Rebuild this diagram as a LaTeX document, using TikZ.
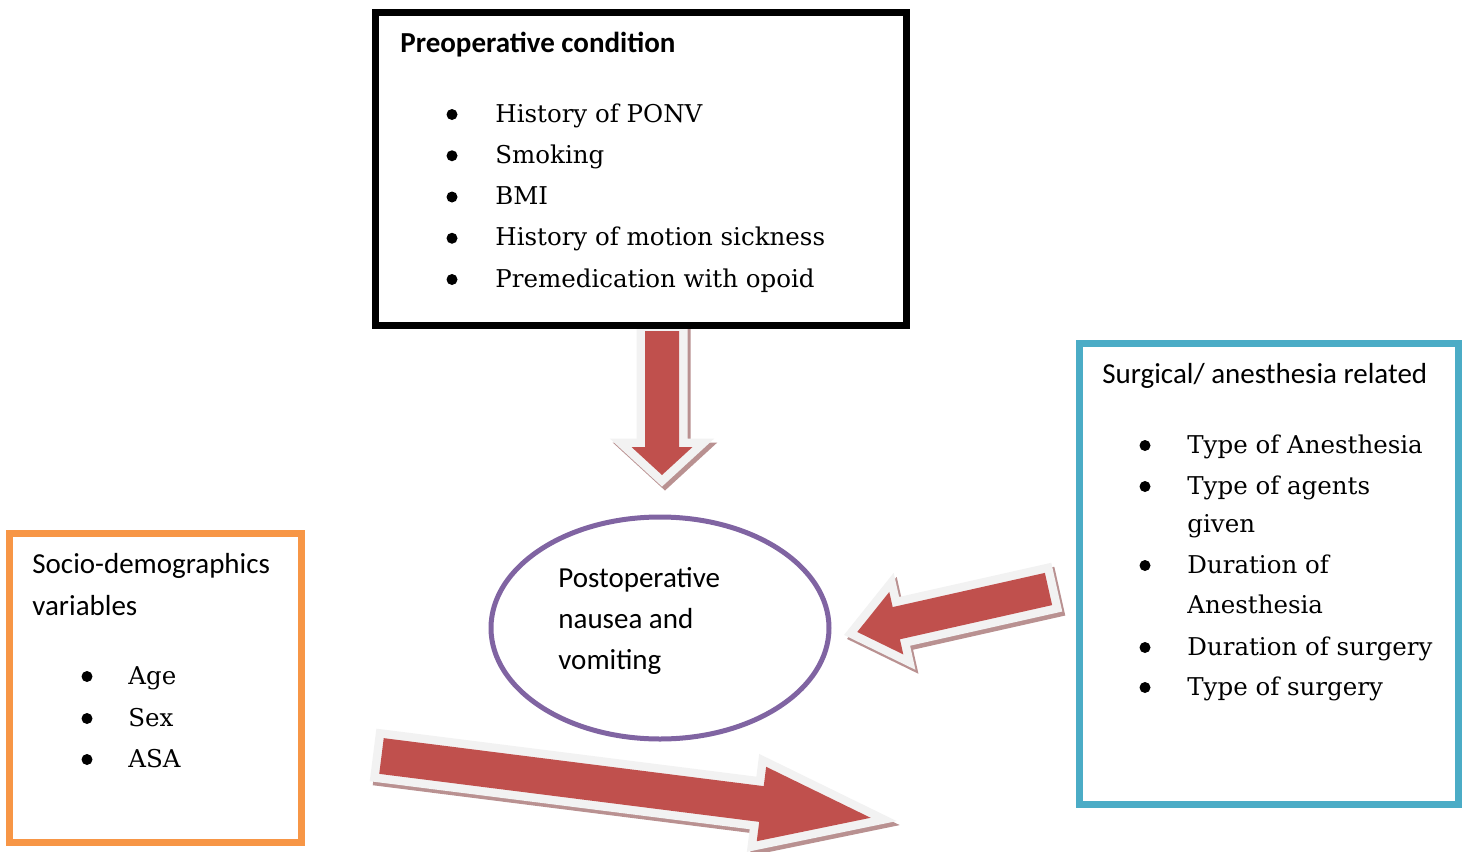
\documentclass[tikz,border=0pt]{standalone}
\usepackage{fontspec}
\setmainfont{DejaVu Serif}
\newfontfamily\calibri{Carlito}
\usetikzlibrary{shapes.geometric,shadows}

\definecolor{arrowred}{HTML}{C0504D}
\definecolor{arrowrim}{HTML}{F2F2F2}
\definecolor{arrowshade}{RGB}{185,145,145}
\definecolor{boxorange}{HTML}{F79646}
\definecolor{boxblue}{HTML}{4BACC6}
\definecolor{ringpurple}{HTML}{8064A2}

\tikzset{
  item/.style={anchor=base west, inner sep=0pt, font=\fontsize{12.25}{14}\selectfont},
  head/.style={anchor=base west, inner sep=0pt, font=\calibri\fontsize{14.5}{16}\selectfont},
  frame/.style={draw, line width=3.5pt, inner sep=0pt, outer sep=0pt, anchor=north west},
  fatbody/.style={
    drop shadow={shadow xshift=1.5pt, shadow yshift=-2pt, fill=arrowshade,
      draw=arrowshade, line width=8.5pt, line join=miter, opacity=1},
    preaction={draw=arrowrim, fill=arrowrim, line width=8.5pt, line join=miter},
    fill=arrowred},
  pics/fatarrow/.style args={#1/#2/#3/#4}{code={
    \path[fatbody] (0,#2/2) -- ({#1-#4},#2/2) -- ({#1-#4},#3/2) -- (#1,0)
      -- ({#1-#4},-#3/2) -- ({#1-#4},-#2/2) -- (0,-#2/2) -- cycle;}},
}

\begin{document}
\begin{tikzpicture}[x=0.5pt, y=-0.5pt]
  \useasboundingbox (0,0) rectangle (1464,852);

  % block arrows
  \pic[rotate=-90] (downarrow) at (662,331) {fatarrow=144/34/61/28};
  \pic[rotate=192.66] (leftarrow) at (1048.5,589) {fatarrow=196/33/64/40};
  \pic[rotate=-7.2] (rightarrow) at (381.5,756) {fatarrow=493/36/75/110};

  % preoperative condition
  \node[frame, minimum width=265.5pt, minimum height=156.75pt] (pre) at (375.5,12) {};
  \node[head, font=\calibri\bfseries\fontsize{14.5}{16}\selectfont] (pretitle) at (400,52) {Preoperative condition};
  \foreach \t [count=\i] in {History of PONV, Smoking, BMI, History of motion sickness, Premedication with opoid} {
    \fill (452,{122+41.25*(\i-1)-7.5}) circle (5.5);
    \node[item] (pre\i) at (495,{122+41.25*(\i-1)}) {\t};
  }

  % outcome
  \node[ellipse, draw=ringpurple, line width=2.5pt, inner sep=0pt,
        minimum width=169pt, minimum height=111pt] (ponv) at (660,628) {};
  \foreach \t/\y [count=\i] in {Postoperative/587, nausea and/628, vomiting/669}
    \node[head] (ponv\i) at (558,\y) {\t};

  % socio-demographics
  \node[frame, draw=boxorange, minimum width=146pt, minimum height=154.5pt] (socio) at (9,533) {};
  \node[head] (sociotitle) at (32,573) {Socio-demographics};
  \node[head] (sociotitleb) at (32,615) {variables};
  \foreach \t/\y [count=\i] in {Age/684, Sex/726, ASA/767} {
    \fill (87,\y-7.5) circle (5.5);
    \node[item] (socio\i) at (128,\y) {\t};
  }

  % surgical / anesthesia
  \node[frame, draw=boxblue, minimum width=189.5pt, minimum height=230.5pt] (surg) at (1079,343.5) {};
  \node[head] (surgtitle) at (1102,383) {Surgical/ anesthesia related};
  \foreach \t/\y/\b [count=\i] in {Type of Anesthesia/453/1, Type of agents/494/1, given/532/0,
      Duration of/573/1, Anesthesia/613/0, Duration of surgery/655/1, Type of surgery/695/1} {
    \ifnum\b=1 \fill (1145,\y-7.5) circle (5.5); \fi
    \node[item] (surg\i) at (1187,\y) {\t};
  }
\end{tikzpicture}
\end{document}
